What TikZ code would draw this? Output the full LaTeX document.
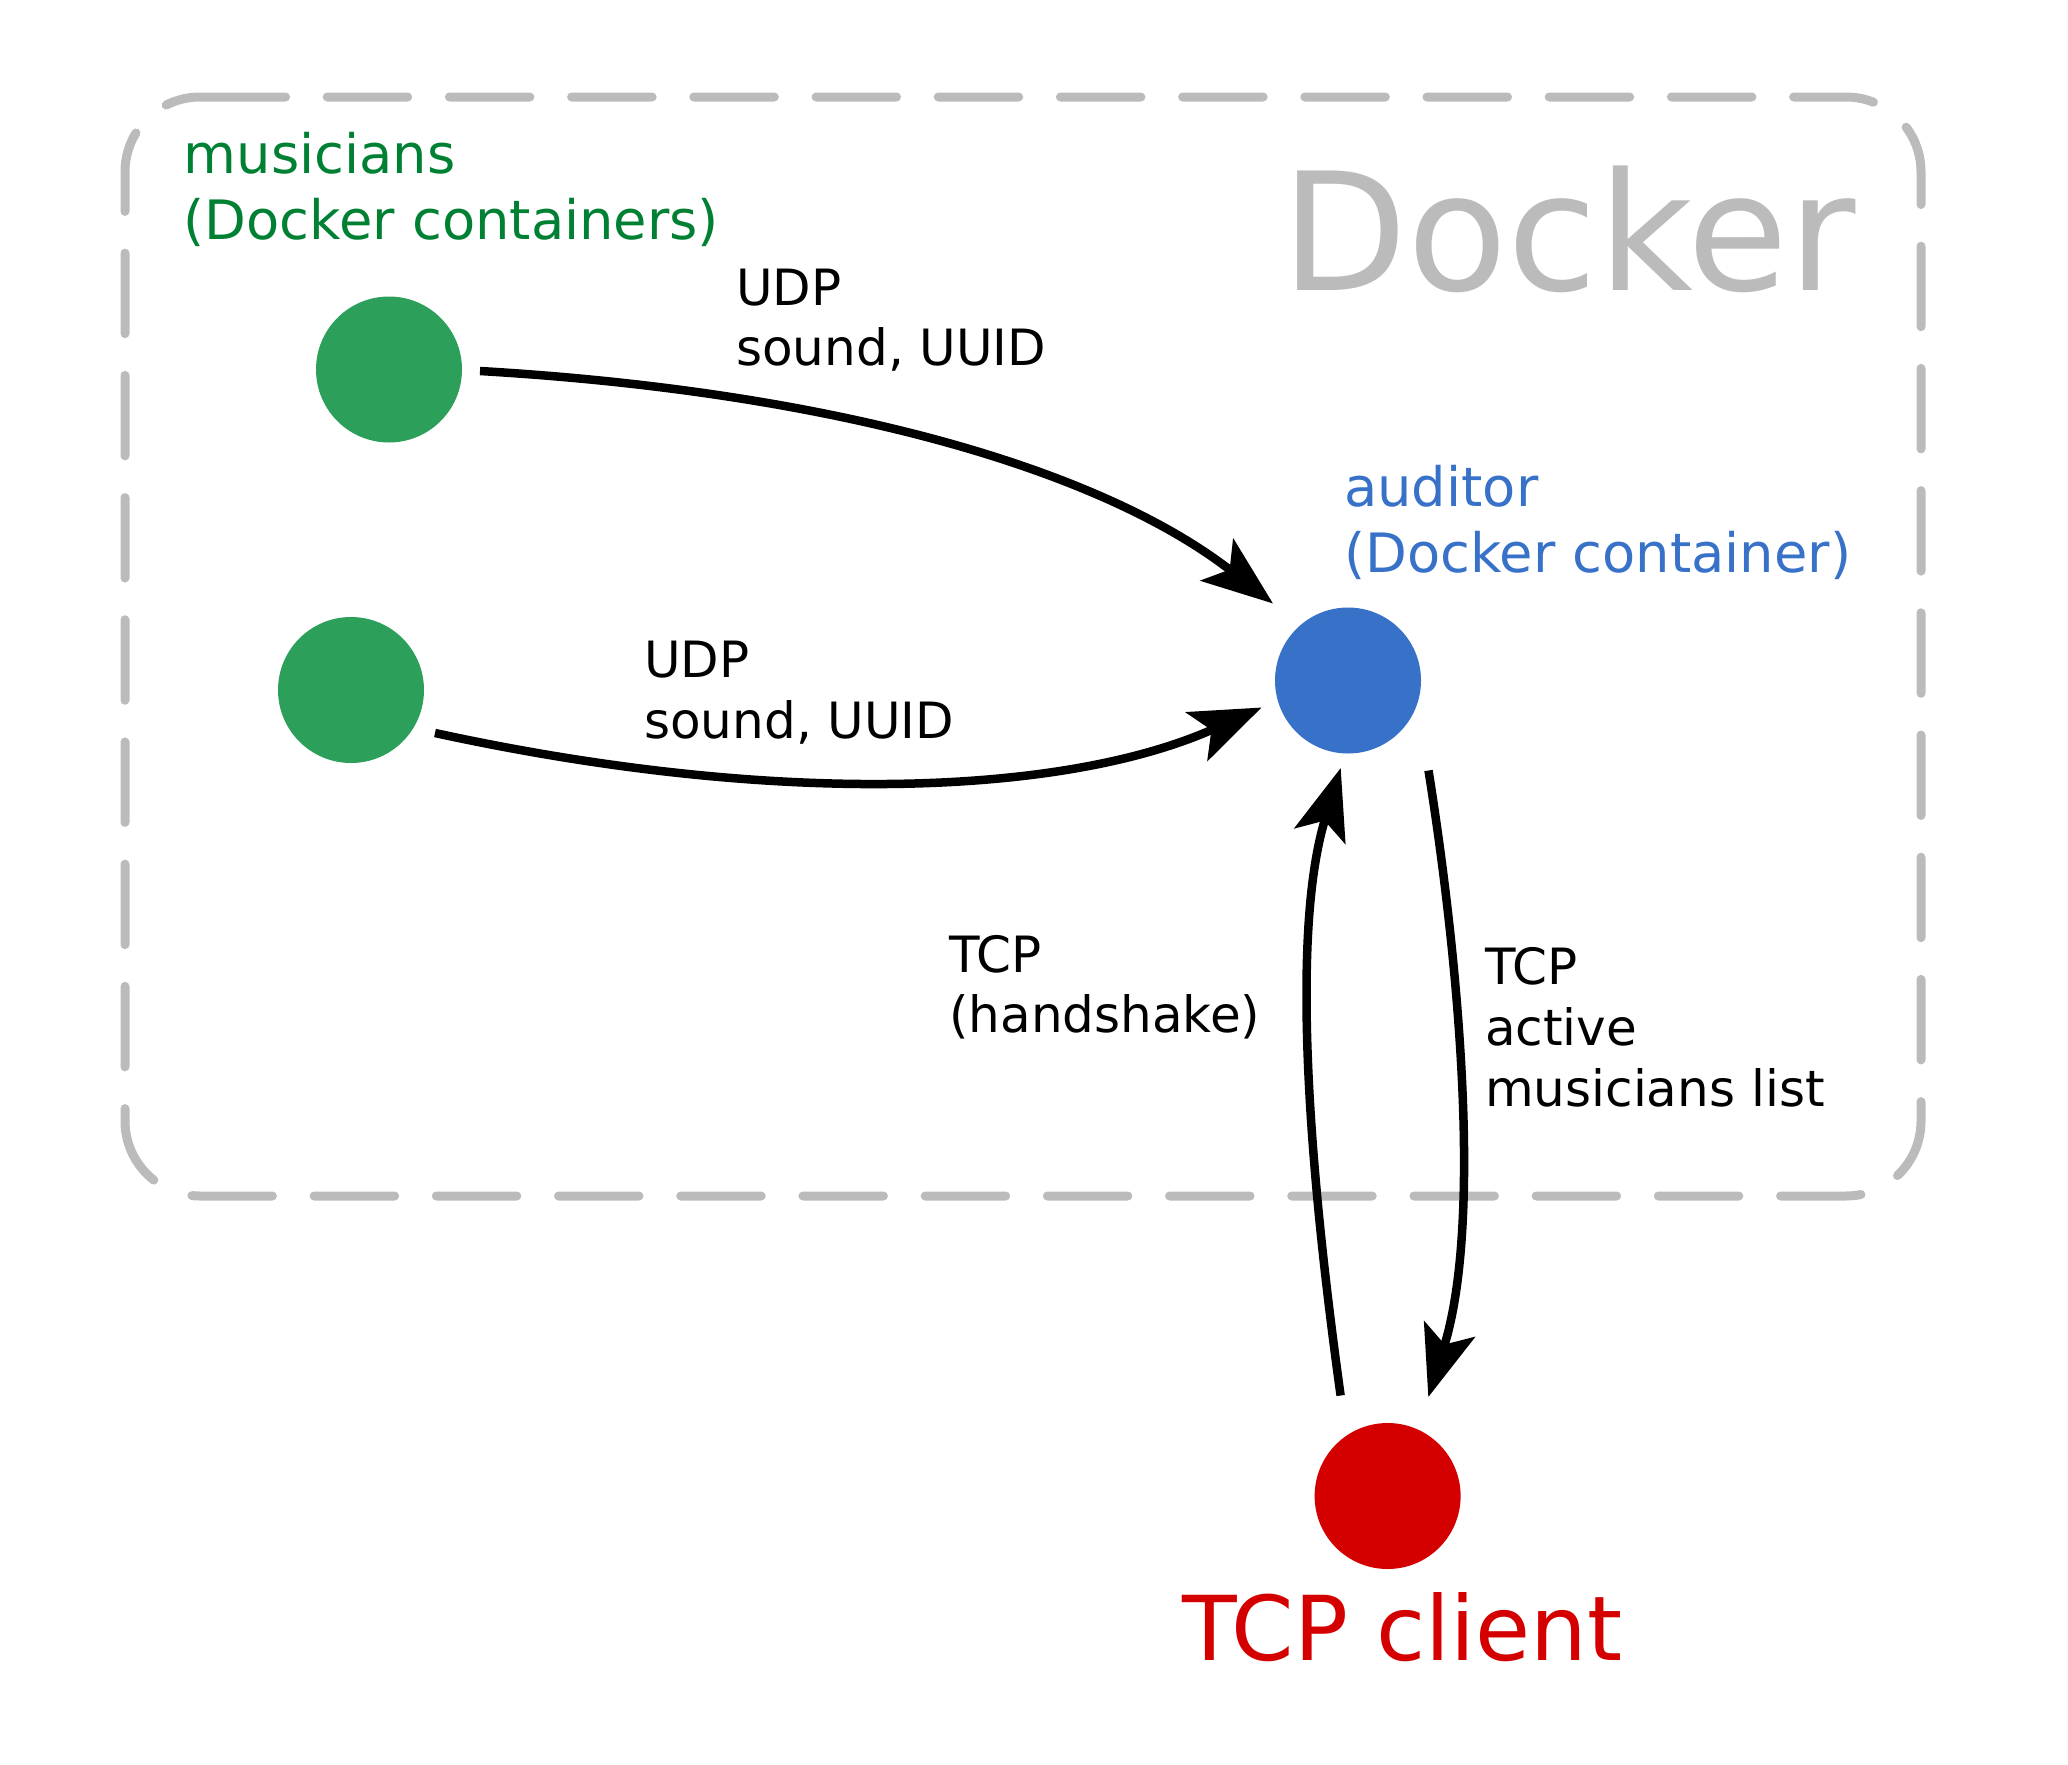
\documentclass[tikz,border=0pt]{standalone}
\usepackage{fontspec}
\setmainfont{DejaVu Sans}
\usetikzlibrary{arrows.meta}
\definecolor{dotgreen}{HTML}{2CA05A}
\definecolor{txtgreen}{HTML}{008033}
\definecolor{dotblue}{HTML}{3771C8}
\definecolor{dotred}{HTML}{D40000}
\definecolor{dockergray}{HTML}{BBBBBB}
\tikzset{
  dot/.style={circle, inner sep=0pt, minimum size=146pt, draw=none},
  lbl/.style={anchor=base west, inner sep=0pt, font=\fontsize{50}{60}\selectfont},
  grp/.style={anchor=base west, inner sep=0pt, font=\fontsize{54.3}{65}\selectfont},
  conn/.style={line width=8.5pt, -{Stealth[length=71pt,width=53pt,inset=16pt]}},
  boxline/.style={draw=dockergray, line width=9pt, line cap=round,
    dash pattern=on 80.5pt off 41.7pt, rounded corners=75pt},
}
\begin{document}
\begin{tikzpicture}[x=1pt,y=-1pt]
\useasboundingbox (0,0) rectangle (2068,1764);
% Docker frame
\draw[boxline] (205,97) -- (1921,97) -- (1921,1196) -- (125,1196) -- (125,97) -- (205,97);
\node[anchor=base west, inner sep=0pt, text=dockergray, font=\fontsize{164}{190}\selectfont] (dock) at (1281,290.8) {Docker};
% nodes
\node[dot, fill=dotgreen] (m1) at (389,369.5) {};
\node[dot, fill=dotgreen] (m2) at (351,690) {};
\node[dot, fill=dotblue] (aud) at (1348,680.5) {};
\node[dot, fill=dotred] (cli) at (1387.6,1496) {};
% group labels
\node[grp, text=txtgreen] (mus1) at (183.5,173) {musicians};
\node[grp, text=txtgreen] (mus2) at (183.5,239) {(Docker containers)};
\node[grp, text=dotblue] (aud1) at (1344,506) {auditor};
\node[grp, text=dotblue] (aud2) at (1344,572.6) {(Docker container)};
\node[anchor=base west, inner sep=0pt, text=dotred, font=\fontsize{89.5}{105}\selectfont] (cl) at (1182,1660) {TCP client};
% connector labels
\node[lbl] (u1a) at (736,305.4) {UDP};
\node[lbl] (u1b) at (736,365.6) {sound, UUID};
\node[lbl] (u2a) at (644,677.7) {UDP};
\node[lbl] (u2b) at (644,738) {sound, UUID};
\node[lbl] (h1) at (949,972) {TCP};
\node[lbl] (h2) at (949,1032.7) {(handshake)};
\node[lbl] (l1) at (1485,984) {TCP};
\node[lbl] (l2) at (1485,1045) {active};
\node[lbl] (l3) at (1485,1106) {musicians list};
% connectors
\draw[conn] ([shift={(91,1.5)}]m1.center) .. controls (838,392) and (1102,470) .. ([shift={(-75,-77)}]aud.center);
\draw[conn] ([shift={(84,43)}]m2.center) .. controls (780,808) and (1066,795) .. ([shift={(-86.4,27)}]aud.center);
\draw[conn] ([shift={(-47,-100.5)}]cli.center) .. controls (1313,1197) and (1288,940) .. ([shift={(-7.3,87.5)}]aud.center);
\draw[conn] ([shift={(80.5,90)}]aud.center) .. controls (1460,968) and (1482,1225) .. ([shift={(40.7,-99)}]cli.center);
\end{tikzpicture}
\end{document}
